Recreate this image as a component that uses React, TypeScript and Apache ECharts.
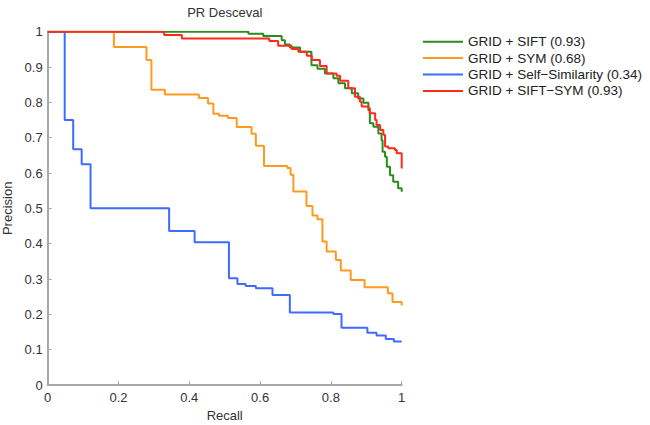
import React, { useEffect, useRef } from "react";
import * as echarts from "echarts";

const chartTitle = "PR Desceval";
const xAxisName = "Recall";
const yAxisName = "Precision";

const seriesNames = [
  "GRID + SIFT (0.93)",
  "GRID + SYM (0.68)",
  "GRID + Self\u2212Similarity (0.34)",
  "GRID + SIFT\u2212SYM (0.93)",
];
const seriesColors = ["#2a8c1e", "#ff9a1f", "#3d6bff", "#ff2a1a"];

// Each point: start of a precision plateau (recall, precision)
const siftRecall = [0, 0.567, 0.609, 0.661, 0.67, 0.684, 0.713, 0.745, 0.762, 0.783, 0.807, 0.821, 0.84, 0.859, 0.877, 0.892, 0.906, 0.91, 0.92, 0.934, 0.943, 0.946, 0.953, 0.958, 0.967, 0.976, 0.99, 1.0];
const siftPrecision = [1, 0.994, 0.988, 0.976, 0.964, 0.955, 0.943, 0.905, 0.895, 0.882, 0.868, 0.854, 0.84, 0.826, 0.811, 0.799, 0.778, 0.741, 0.731, 0.712, 0.693, 0.66, 0.646, 0.618, 0.594, 0.575, 0.557, 0.547];

const symRecall = [0, 0.187, 0.279, 0.293, 0.331, 0.427, 0.453, 0.468, 0.484, 0.509, 0.534, 0.576, 0.588, 0.611, 0.677, 0.686, 0.694, 0.731, 0.748, 0.762, 0.776, 0.788, 0.814, 0.828, 0.856, 0.895, 0.961, 0.974, 1.0, 1.0];
const symPrecision = [1, 0.957, 0.92, 0.836, 0.822, 0.812, 0.797, 0.768, 0.762, 0.756, 0.73, 0.711, 0.677, 0.62, 0.614, 0.595, 0.548, 0.507, 0.48, 0.469, 0.406, 0.378, 0.354, 0.324, 0.297, 0.277, 0.26, 0.235, 0.235, 0.225];

const selfSimRecall = [0, 0.048, 0.072, 0.096, 0.121, 0.343, 0.415, 0.512, 0.536, 0.559, 0.588, 0.635, 0.684, 0.807, 0.83, 0.903, 0.929, 0.955, 0.978, 1.0];
const selfSimPrecision = [1, 0.75, 0.667, 0.625, 0.5, 0.436, 0.404, 0.302, 0.286, 0.28, 0.274, 0.255, 0.205, 0.201, 0.162, 0.148, 0.14, 0.13, 0.123, 0.123];

const siftSymRecall = [0, 0.329, 0.379, 0.626, 0.651, 0.689, 0.708, 0.732, 0.746, 0.769, 0.788, 0.816, 0.826, 0.849, 0.868, 0.882, 0.887, 0.906, 0.91, 0.925, 0.929, 0.939, 0.948, 0.953, 0.962, 0.981, 0.986, 1.0, 1.0];
const siftSymPrecision = [1, 0.991, 0.981, 0.974, 0.96, 0.951, 0.943, 0.932, 0.92, 0.903, 0.882, 0.875, 0.861, 0.84, 0.816, 0.802, 0.788, 0.783, 0.769, 0.75, 0.736, 0.722, 0.708, 0.675, 0.67, 0.665, 0.656, 0.646, 0.613];

const recallArrays = [siftRecall, symRecall, selfSimRecall, siftSymRecall];
const precisionArrays = [siftPrecision, symPrecision, selfSimPrecision, siftSymPrecision];

const FONT = "'Liberation Sans', Arial, Helvetica, sans-serif";
const GRID_LEFT = 47.7;
const GRID_RIGHT_X = 401.7;
const GRID_TOP = 31.7;
const GRID_BOTTOM_Y = 385;

export default function App() {
  const ref = useRef<HTMLDivElement>(null);

  useEffect(() => {
    if (!ref.current) return;
    const chart = echarts.init(ref.current, null, { renderer: "svg" });
    const axisColor = "#a8a8a8";
    const labelColor = "#333333";

    const series = seriesNames.map((name, i) => ({
      name,
      type: "line",
      step: "end",
      symbol: "none",
      showSymbol: false,
      data: recallArrays[i].map((r, j) => [r, precisionArrays[i][j]]),
      lineStyle: { color: seriesColors[i], width: 2 },
      itemStyle: { color: seriesColors[i] },
      z: 2 + i,
    }));

    chart.setOption({
      animation: false,
      backgroundColor: "#ffffff",
      textStyle: { fontFamily: FONT },
      grid: {
        left: GRID_LEFT,
        right: 650 - GRID_RIGHT_X,
        top: GRID_TOP,
        bottom: 425 - GRID_BOTTOM_Y,
        containLabel: false,
        outerBoundsMode: "none",
      },
      graphic: [
        {
          type: "text",
          x: (GRID_LEFT + GRID_RIGHT_X) / 2,
          y: 12,
          style: {
            text: chartTitle,
            align: "center",
            verticalAlign: "middle",
            fontSize: 13,
            fontFamily: FONT,
            fill: "#333333",
          },
        },
      ],
      legend: {
        orient: "vertical",
        left: 423,
        top: 33.5,
        icon: "rect",
        itemWidth: 40,
        itemHeight: 2,
        itemGap: 0,
        padding: 0,
        data: seriesNames,
        textStyle: {
          fontSize: 13.5,
          fontFamily: FONT,
          color: "#222222",
          lineHeight: 16.4,
        },
      },
      xAxis: {
        type: "value",
        min: 0,
        max: 1,
        interval: 0.2,
        name: xAxisName,
        nameLocation: "middle",
        nameGap: 21,
        nameTextStyle: { fontSize: 13, color: labelColor, fontFamily: FONT },
        axisLine: { show: true, lineStyle: { color: axisColor, width: 2 } },
        axisTick: { show: true, inside: true, length: 4, lineStyle: { color: axisColor, width: 1 } },
        axisLabel: { fontSize: 13, color: labelColor, margin: 6, fontFamily: FONT },
        splitLine: { show: false },
      },
      yAxis: {
        type: "value",
        min: 0,
        max: 1,
        interval: 0.1,
        name: yAxisName,
        nameLocation: "middle",
        nameGap: 33,
        nameTextStyle: { fontSize: 13, color: labelColor, fontFamily: FONT },
        axisLine: { show: true, lineStyle: { color: axisColor, width: 2 } },
        axisTick: { show: true, inside: true, length: 4, lineStyle: { color: axisColor, width: 1 } },
        axisLabel: { fontSize: 13, color: labelColor, margin: 5, fontFamily: FONT },
        splitLine: { show: false },
      },
      series,
    });

    return () => chart.dispose();
  }, []);

  return (
    <div
      ref={ref}
      style={{ position: "fixed", left: 0, top: 0, width: 650, height: 425, background: "#fff" }}
    />
  );
}
